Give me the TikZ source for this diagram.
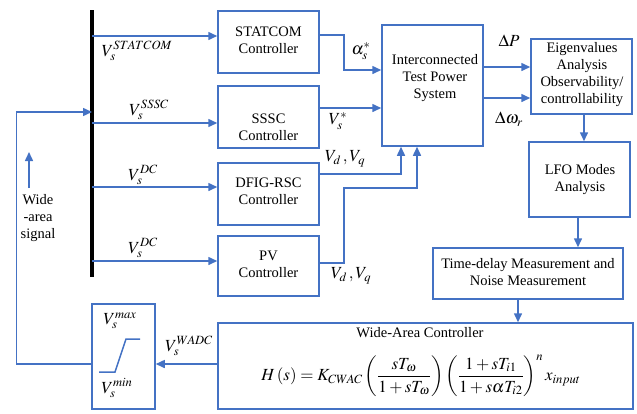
\documentclass[tikz,border=0pt]{standalone}
\usepackage{mathptmx}
\usepackage[no-math]{fontspec}
\setmainfont{Liberation Serif}
\usetikzlibrary{arrows.meta,calc}
\definecolor{lnblue}{HTML}{4472C4}
\tikzset{
  box/.style={draw=lnblue, line width=1.5pt, minimum width=101pt, align=center, inner sep=0pt},
  txt/.style={align=center, font=\fontsize{14.5}{17}\selectfont, inner sep=0pt},
  lbl/.style={inner sep=0pt, font=\fontsize{17}{20}\selectfont},
  conn/.style={draw=lnblue, line width=1.5pt},
  arr/.style={conn, -{Triangle[length=9pt,width=8pt]}},
}
\begin{document}
\begin{tikzpicture}[x=1pt,y=-1pt]
\useasboundingbox (0,0) rectangle (637,413);
% bus bar
\coordinate (busT) at (92,10);
\coordinate (busB) at (92,277);
\draw[line width=4pt] (busT) -- (busB);
% boxes
\node[box, minimum height=62pt] (statcom) at (268.5,42) {};
\node[txt] (statcomT) at (268.5,40) {STATCOM\\Controller};
\node[box, minimum height=62pt] (sssc) at (268.5,117) {};
\node[txt] (ssscT) at (268.5,127) {SSSC\\Controller};
\node[box, minimum height=62pt] (dfig) at (268.5,194) {};
\node[txt] (dfigT) at (268.5,191) {DFIG-RSC\\Controller};
\node[box, minimum height=60pt] (pv) at (268.5,266) {};
\node[txt] (pvT) at (268.5,264) {PV\\Controller};
\node[box, minimum height=121pt] (itps) at (432.5,85.5) {};
\node[txt] (itpsT) at (435,78) {Interconnected\\Test Power\\System};
\node[box, minimum height=75pt] (eig) at (581.5,76.5) {};
\node[txt] (eigT) at (582,75) {Eigenvalues\\Analysis\\Observability/\\controllability};
\node[box, minimum height=75pt] (lfo) at (579.5,179.5) {};
\node[txt] (lfoT) at (580,180) {LFO Modes\\Analysis};
\node[box, minimum width=190pt, minimum height=51pt] (td) at (528,273.5) {};
\node[txt] (tdT) at (528,272.5) {Time-delay Measurement and\\Noise Measurement};
\node[box, minimum width=415pt, minimum height=86pt] (wac) at (425.5,366) {};
\node[txt] (wacT) at (420,333) {Wide-Area Controller};
\node[lbl] (eq) at (421,376) {$\displaystyle H\left(s\right)=K_{CWAC}\left(\frac{sT_{\omega}}{1+sT_{\omega}}\right)\left(\frac{1+sT_{i1}}{1+s\alpha T_{i2}}\right)^{n}x_{input}$};
\node[box, minimum width=63pt, minimum height=105pt] (lim) at (123.5,356.5) {};
% limiter curve
\draw[conn] (99,372) -- (115,372) -- (126,339) -- (140,339);
\node[lbl] (vmax) at (120,321) {$V_s^{max}$};
\node[lbl] (vmin) at (117,388) {$V_s^{min}$};
% bus to controllers
\coordinate (y36) at (0,36);
\coordinate (y123) at (0,123);
\coordinate (y187) at (0,187);
\coordinate (y261) at (0,261);
\draw[arr] (busT |- y36) -- (statcom.west |- y36);
\draw[arr] (busT |- y123) -- (sssc.west |- y123);
\draw[arr] (busT |- y187) -- (dfig.west |- y187);
\draw[arr] (busT |- y261) -- (pv.west |- y261);
\node[lbl] (l1) at (137,51) {$V_s^{STATCOM}$};
\node[lbl] (l2) at (149,110) {$V_s^{SSSC}$};
\node[lbl] (l3) at (143,175) {$V_s^{DC}$};
\node[lbl] (l4) at (143,248) {$V_s^{DC}$};
% controllers to ITPS
\coordinate (c1a) at (344,35);
\coordinate (c1b) at (344,70);
\draw[arr] (statcom.east |- c1a) -- (c1a) -- (c1b) -- (itps.west |- c1b);
\coordinate (c2) at (0,108);
\draw[arr] (sssc.east |- c2) -- (itps.west |- c2);
\coordinate (c3) at (401,174);
\draw[arr] (dfig.east |- c3) -- (c3) -- (c3 |- itps.south);
\coordinate (c4a) at (344,263);
\coordinate (c4b) at (344,188);
\coordinate (c4c) at (417,188);
\draw[arr] (pv.east |- c4a) -- (c4a) -- (c4b) -- (c4c) -- (c4c |- itps.south);
\node[lbl] (la) at (361,51) {$\alpha_s^{*}$};
\node[lbl] (lb) at (338,121) {$V_s^{*}$};
\node[lbl] (lc) at (345,159) {$V_d\,,V_q$};
\node[lbl] (ld) at (351,276) {$V_d\,,V_q$};
% ITPS to eig
\coordinate (c5) at (0,67);
\coordinate (c6) at (0,98);
\draw[arr] (itps.east |- c5) -- (eig.west |- c5);
\draw[arr] (itps.east |- c6) -- (eig.west |- c6);
\node[lbl] (ldp) at (509,41) {$\Delta P$};
\node[lbl] (ldw) at (509,119) {$\Delta\omega_r$};
% vertical chain
\coordinate (v1) at (584,0);
\coordinate (v2) at (578,0);
\coordinate (v3) at (518,0);
\draw[arr] (v1 |- eig.south) -- (v1 |- lfo.north);
\draw[arr] (v2 |- lfo.south) -- (v2 |- td.north);
\draw[arr] (v3 |- td.south) -- (v3 |- wac.north);
% WAC to limiter
\coordinate (c7) at (0,364);
\draw[arr] (wac.west |- c7) -- (lim.east |- c7);
\node[lbl] (lw) at (189,346) {$V_s^{WADC}$};
% feedback
\coordinate (fbc) at (16.7,364);
\coordinate (fbt) at (16.7,112);
\draw[arr] (lim.west |- c7) -- (fbc) -- (fbt) -- (busT |- fbt);
\coordinate (upB) at (29,188);
\coordinate (upT) at (29,152);
\draw[arr] (upB) -- (upT);
\node[txt] (ws) at (38,218) {Wide\\-area\\signal};
\end{tikzpicture}
\end{document}
